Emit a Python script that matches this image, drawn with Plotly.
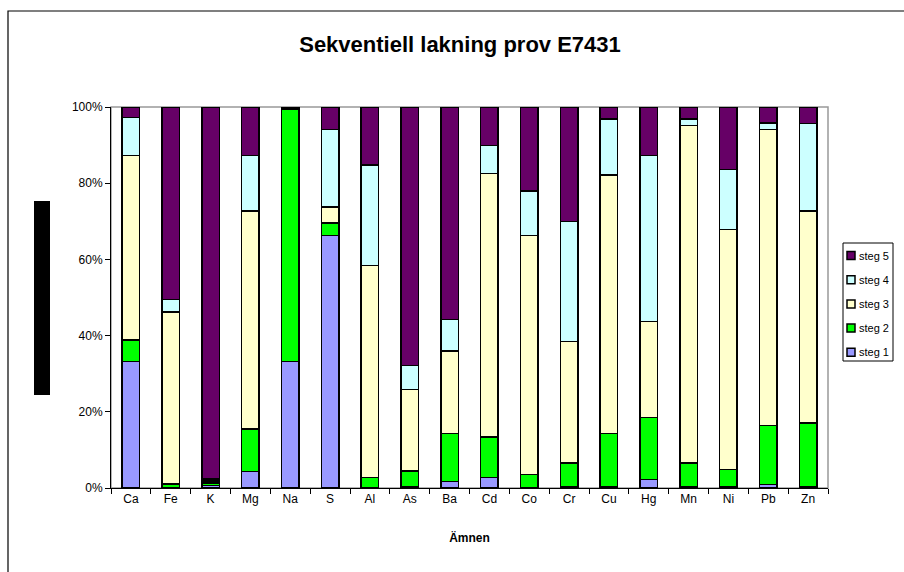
import plotly.graph_objects as go

# Ämnen (elements) on the category axis
amnen = ["Ca", "Fe", "K", "Mg", "Na", "S", "Al", "As", "Ba", "Cd",
         "Co", "Cr", "Cu", "Hg", "Mn", "Ni", "Pb", "Zn"]

# Share (%) released in each leaching step
steg1 = [33.2, 0.1, 0.7, 4.3, 33.2, 66.3, 0.1, 0.3, 1.7, 2.8,
         0.1, 0.3, 0.3, 2.2, 0.3, 0.3, 0.9, 0.3]
steg2 = [5.7, 0.9, 0.6, 11.2, 66.1, 3.2, 2.7, 4.1, 12.6, 10.6,
         3.4, 6.2, 14.0, 16.3, 6.2, 4.6, 15.5, 16.7]
steg3 = [48.4, 45.2, 0.5, 57.2, 0.2, 4.2, 55.6, 21.5, 21.6, 69.2,
         62.8, 32.0, 67.9, 25.2, 88.6, 63.0, 77.7, 55.7]
steg4 = [9.9, 3.3, 0.6, 14.6, 0.2, 20.4, 26.4, 6.3, 8.3, 7.3,
         11.6, 31.5, 14.7, 43.6, 1.8, 15.7, 1.7, 23.0]
steg5 = [2.8, 50.5, 97.6, 12.7, 0.3, 5.9, 15.2, 67.8, 55.8, 10.1,
         22.1, 30.0, 3.1, 12.7, 3.1, 16.4, 4.2, 4.3]

series = [
    ("steg 1", steg1, "#9999FF"),
    ("steg 2", steg2, "#00FF00"),
    ("steg 3", steg3, "#FFFFCC"),
    ("steg 4", steg4, "#CCFFFF"),
    ("steg 5", steg5, "#660066"),
]

FONT = "Arial, Liberation Sans, sans-serif"

fig = go.Figure()
for name, vals, col in series:
    fig.add_trace(go.Bar(
        x=amnen, y=vals, name=name, showlegend=False,
        marker=dict(color=col, line=dict(color="black", width=1.5)),
    ))

# plot-area geometry in pixels (for items placed outside the axes)
L, R, T, B = 111, 828, 107, 488
W, H = R - L, B - T


def px(x):
    return (x - L) / W


def py(y):
    return (B - y) / H


shapes = [
    # gray plot-area frame (top and right edges)
    dict(type="rect", xref="paper", yref="paper", x0=0, x1=1, y0=0, y1=1,
         line=dict(color="#999999", width=1.5), layer="below"),
    # outer chart frame
    dict(type="rect", xref="paper", yref="paper",
         x0=px(8), x1=px(912), y0=py(580), y1=py(11),
         line=dict(color="black", width=1.2), layer="below"),
    # black block left of the value axis
    dict(type="rect", xref="paper", yref="paper",
         x0=px(34), x1=px(50), y0=py(395), y1=py(201),
         fillcolor="black", line=dict(width=0)),
    # compact legend box
    dict(type="rect", xref="paper", yref="paper",
         x0=px(843), x1=px(893), y0=py(361), y1=py(243),
         fillcolor="white", line=dict(color="black", width=1)),
]
annotations = []

# legend entries, top to bottom: steg 5 ... steg 1
for i, (name, _, col) in enumerate(reversed(series)):
    yc = 255.5 + i * 24.2
    shapes.append(dict(
        type="rect", xref="paper", yref="paper",
        x0=px(847), x1=px(855), y0=py(yc + 4), y1=py(yc - 4),
        fillcolor=col, line=dict(color="black", width=1.5)))
    annotations.append(dict(
        text=name, xref="paper", yref="paper", x=px(857), y=py(yc),
        xanchor="left", yanchor="middle", showarrow=False,
        font=dict(family=FONT, size=11, color="black")))

fig.update_layout(
    width=904, height=572,
    margin=dict(l=L, r=904 - R, t=T, b=572 - B, autoexpand=False),
    paper_bgcolor="white", plot_bgcolor="white",
    barmode="stack", barnorm="percent", bargap=0.56,
    font=dict(family=FONT, size=12, color="black"),
    title=dict(text="<b>Sekventiell lakning prov E7431</b>",
               font=dict(family=FONT, size=22, color="black"),
               x=460 / 904, xanchor="center", xref="container",
               y=1 - 44 / 572, yanchor="middle", yref="container"),
    showlegend=False,
    xaxis=dict(
        type="category", showline=True, linecolor="black", linewidth=1,
        ticks="outside", tickson="boundaries", ticklen=5, tickcolor="black",
        showgrid=False, tickfont=dict(size=12),
        title=dict(text="<b>Ämnen</b>", font=dict(size=12), standoff=28),
    ),
    yaxis=dict(
        range=[0, 100], dtick=20, ticksuffix="%",
        showline=True, linecolor="black", linewidth=1,
        ticks="outside", ticklen=5, tickcolor="black",
        showgrid=False, zeroline=False, tickfont=dict(size=12),
    ),
    shapes=shapes,
    annotations=annotations,
)

fig.write_html("out.html")
